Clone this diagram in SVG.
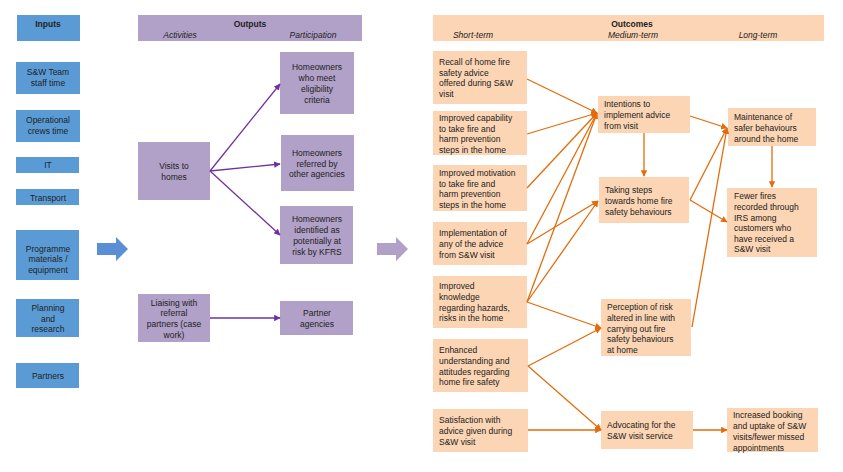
<svg xmlns="http://www.w3.org/2000/svg" width="843" height="472" viewBox="0 0 843 472">
<defs>
<marker id="ap" viewBox="0 0 10 10" refX="9" refY="5" markerWidth="5" markerHeight="5" orient="auto"><path d="M0,0L10,5L0,10z" fill="#7030a0"/></marker>
<marker id="ao" viewBox="0 0 10 10" refX="9" refY="5" markerWidth="5" markerHeight="5" orient="auto"><path d="M0,0L10,5L0,10z" fill="#e46c0a"/></marker>
<style>
text{font-family:"Liberation Sans",Arial,sans-serif;font-size:8.5px;fill:#222}
.b{fill:#5b9bd5}.p{fill:#b1a0c7}.o{fill:#fcd5b4}
.h{font-weight:bold}.i{font-style:italic}
.c{text-anchor:middle}
.lp{stroke:#7030a0;stroke-width:1.3;fill:none;marker-end:url(#ap)}
.lo{stroke:#e46c0a;stroke-width:1.3;fill:none;marker-end:url(#ao)}
</style>
</defs>
<rect width="843" height="472" fill="#fff"/>
<g id="inputs" class="c">
<rect class="b" x="17" y="15" width="63" height="26"/><text x="48" y="27" class="h c">Inputs</text>
<rect class="b" x="16" y="62" width="64" height="32"/><text x="48" y="75" class="c">S&amp;W Team</text><text x="48" y="86" class="c">staff time</text>
<rect class="b" x="16" y="110" width="64" height="32"/><text x="48" y="123" class="c">Operational</text><text x="48" y="134" class="c">crews time</text>
<rect class="b" x="16" y="157" width="63" height="16"/><text x="48" y="168" class="c">IT</text>
<rect class="b" x="16" y="189" width="63" height="16"/><text x="48" y="201" class="c">Transport</text>
<rect class="b" x="16" y="230" width="63" height="50"/><text x="48" y="252" class="c">Programme</text><text x="48" y="262" class="c">materials /</text><text x="48" y="273" class="c">equipment</text>
<rect class="b" x="16" y="299" width="63" height="38"/><text x="48" y="311" class="c">Planning</text><text x="48" y="322" class="c">and</text><text x="48" y="332" class="c">research</text>
<rect class="b" x="16" y="363" width="63" height="25"/><text x="48" y="379" class="c">Partners</text>
</g>
<g id="bigarrows">
<path d="M97,243H116V237L128,249L116,261V255H97z" fill="#5b8fd5"/>
<path d="M377,243H396V237L408,249L396,261V255H377z" fill="#b1a0c7"/>
</g>
<g id="outputs">
<rect class="p" x="138" y="15" width="224" height="26"/><text x="250" y="27" class="h c">Outputs</text><text x="180" y="38" class="i c">Activities</text><text x="313" y="38" class="i c">Participation</text>
<rect class="p" x="138" y="142" width="72" height="58"/><text x="174" y="169" class="c">Visits to</text><text x="174" y="180" class="c">homes</text>
<rect class="p" x="280" y="52" width="74" height="62"/><text x="317" y="70" class="c">Homeowners</text><text x="317" y="81" class="c">who meet</text><text x="317" y="92" class="c">eligibility</text><text x="317" y="103" class="c">criteria</text>
<rect class="p" x="281" y="135" width="73" height="56"/><text x="317" y="156" class="c">Homeowners</text><text x="317" y="167" class="c">referred by</text><text x="317" y="177" class="c">other agencies</text>
<rect class="p" x="280" y="206" width="73" height="58"/><text x="317" y="222" class="c">Homeowners</text><text x="317" y="233" class="c">identified as</text><text x="317" y="244" class="c">potentially at</text><text x="317" y="255" class="c">risk by KFRS</text>
<rect class="p" x="138" y="294" width="72" height="48"/><text x="174" y="306" class="c">Liaising with</text><text x="174" y="316" class="c">referral</text><text x="174" y="327" class="c">partners (case</text><text x="174" y="338" class="c">work)</text>
<rect class="p" x="280" y="301" width="73" height="34"/><text x="317" y="316" class="c">Partner</text><text x="317" y="327" class="c">agencies</text>
</g>
<g id="outcomes">
<rect class="o" x="433" y="15" width="391" height="26"/><text x="632" y="27" class="h c">Outcomes</text><text x="473" y="38" class="i c">Short-term</text><text x="633" y="38" class="i c">Medium-term</text><text x="758" y="38" class="i c">Long-term</text>
<rect class="o" x="433" y="51" width="94" height="53"/><text x="439" y="65">Recall of home fire</text><text x="439" y="76">safety advice</text><text x="439" y="86">offered during S&amp;W</text><text x="439" y="97">visit</text>
<rect class="o" x="433" y="111" width="94" height="44"/><text x="439" y="121">Improved capability</text><text x="439" y="132">to take fire and</text><text x="439" y="142">harm prevention</text><text x="439" y="153">steps in the home</text>
<rect class="o" x="433" y="165" width="94" height="46"/><text x="439" y="176">Improved motivation</text><text x="439" y="187">to take fire and</text><text x="439" y="197">harm prevention</text><text x="439" y="208">steps in the home</text>
<rect class="o" x="433" y="222" width="94" height="43"/><text x="439" y="236">Implementation of</text><text x="439" y="247">any of the advice</text><text x="439" y="258">from S&amp;W visit</text>
<rect class="o" x="433" y="276" width="94" height="52"/><text x="439" y="289">Improved</text><text x="439" y="300">knowledge</text><text x="439" y="311">regarding hazards,</text><text x="439" y="321">risks in the home</text>
<rect class="o" x="433" y="339" width="95" height="53"/><text x="439" y="353">Enhanced</text><text x="439" y="364">understanding and</text><text x="439" y="375">attitudes regarding</text><text x="439" y="385">home fire safety</text>
<rect class="o" x="433" y="409" width="95" height="43"/><text x="439" y="423">Satisfaction with</text><text x="439" y="434">advice given during</text><text x="439" y="445">S&amp;W visit</text>
<rect class="o" x="598" y="96" width="92" height="37"/><text x="604" y="107">Intentions to</text><text x="604" y="118">implement advice</text><text x="604" y="129">from visit</text>
<rect class="o" x="599" y="177" width="90" height="46"/><text x="605" y="193">Taking steps</text><text x="605" y="204">towards home fire</text><text x="605" y="215">safety behaviours</text>
<rect class="o" x="601" y="299" width="90" height="57"/><text x="607" y="310">Perception of risk</text><text x="607" y="321">altered in line with</text><text x="607" y="332">carrying out fire</text><text x="607" y="342">safety behaviours</text><text x="607" y="353">at home</text>
<rect class="o" x="601" y="411" width="92" height="38"/><text x="607" y="428">Advocating for the</text><text x="607" y="439">S&amp;W visit service</text>
<rect class="o" x="728" y="108" width="88" height="38"/><text x="734" y="120">Maintenance of</text><text x="734" y="131">safer behaviours</text><text x="734" y="142">around the home</text>
<rect class="o" x="727" y="188" width="90" height="69"/><text x="734" y="199">Fewer fires</text><text x="734" y="210">recorded through</text><text x="734" y="221">IRS among</text><text x="734" y="231">customers who</text><text x="734" y="242">have received a</text><text x="734" y="252">S&amp;W visit</text>
<rect class="o" x="727" y="408" width="91" height="44"/><text x="733" y="418">Increased booking</text><text x="733" y="429">and uptake of S&amp;W</text><text x="733" y="440">visits/fewer missed</text><text x="733" y="451">appointments</text>
</g>
<g id="connectors">
<path class="lp" d="M210,171L280,84"/>
<path class="lp" d="M210,171L280,164"/>
<path class="lp" d="M210,171L280,235"/>
<path class="lp" d="M210,318L280,318"/>
<path class="lo" d="M527,79L597,113"/>
<path class="lo" d="M527,134L597,113"/>
<path class="lo" d="M527,188L597,113"/>
<path class="lo" d="M527,244L597,113"/>
<path class="lo" d="M527,244L598,201"/>
<path class="lo" d="M527,302L597,113"/>
<path class="lo" d="M527,302L598,201"/>
<path class="lo" d="M527,302L601,328"/>
<path class="lo" d="M528,366L601,328"/>
<path class="lo" d="M528,366L601,430"/>
<path class="lo" d="M528,430L601,430"/>
<path class="lo" d="M644,133L644,176"/>
<path class="lo" d="M690,116L727,128"/>
<path class="lo" d="M690,200L727,128"/>
<path class="lo" d="M690,200L727,222"/>
<path class="lo" d="M692,327L727,128"/>
<path class="lo" d="M772,146L772,187"/>
<path class="lo" d="M693,430L727,430"/>
</g>
</svg>
